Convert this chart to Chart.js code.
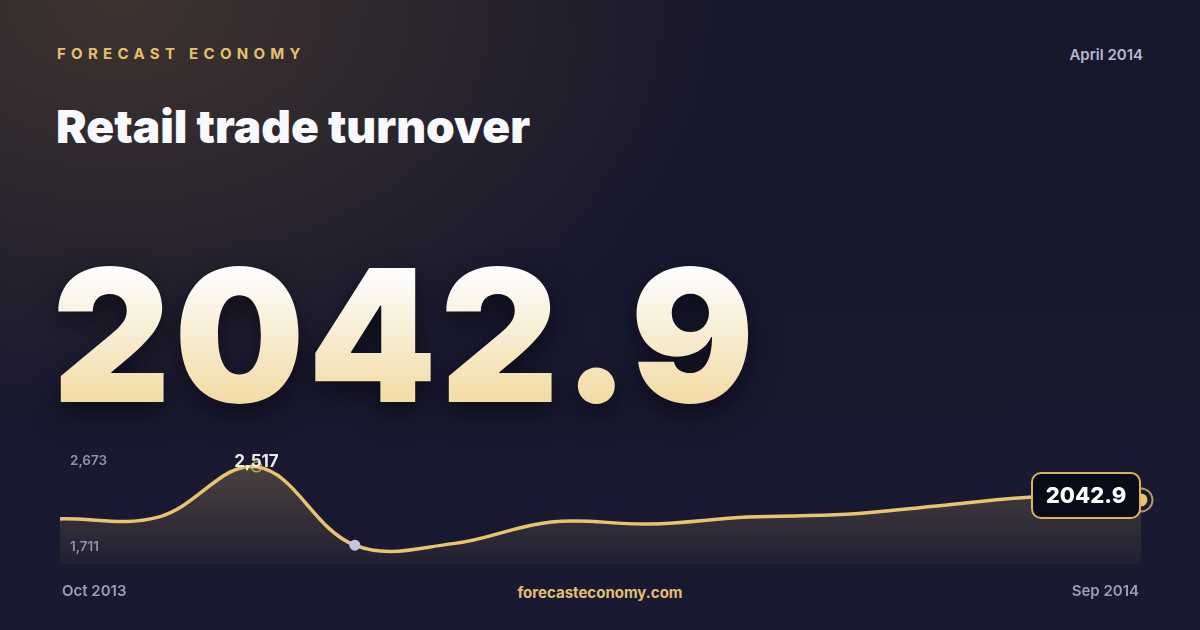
<!DOCTYPE html>
<html>
<head>
<meta charset="utf-8">
<script src="https://cdn.jsdelivr.net/npm/chart.js@4"></script>
<style>
  html, body { margin: 0; padding: 0; }
  body {
    width: 1200px;
    height: 630px;
    overflow: hidden;
    position: relative;
    font-family: Inter, "Noto Sans", sans-serif;
    background:
      radial-gradient(ellipse 620px 420px at 120px 0px, rgba(78, 62, 48, 0.72), rgba(78, 62, 48, 0) 100%),
      linear-gradient(180deg, #17172c 0%, #191932 100%);
  }
  .brand {
    position: absolute; left: 57px; top: 44px;
    color: #e6c06c; font-size: 15px; font-weight: 700; letter-spacing: 5.3px;
  }
  .date {
    position: absolute; right: 57px; top: 45px;
    color: #b4b7d0; font-size: 15px; font-weight: 600;
  }
  .title {
    position: absolute; left: 56px; top: 98px;
    color: #f8f9fc; font-size: 46px; font-weight: 900; letter-spacing: 0px;
  }
  .hero {
    position: absolute; left: 52px; top: 243px;
    font-size: 184px; font-weight: 900; line-height: 1; letter-spacing: 3px;
    background: linear-gradient(180deg, #fdfdfd 15%, #f2d9a0 90%);
    -webkit-background-clip: text; background-clip: text; color: transparent;
    filter: drop-shadow(0 10px 14px rgba(5, 5, 15, 0.7));
  }
  .site {
    position: absolute; left: 0; width: 1200px; top: 583px; text-align: center;
    color: #e2bf70; font-size: 15px; font-weight: 700;
  }
  #wrap { position: absolute; left: 0; top: 430px; width: 1200px; height: 180px; }
</style>
</head>
<body>
<div class="brand">FORECAST ECONOMY</div>
<div class="date">April 2014</div>
<div class="title">Retail trade turnover</div>
<div class="hero" id="hero"></div>
<div class="site">forecasteconomy.com</div>
<div id="wrap"><canvas id="spark"></canvas></div>
<script>
// monthly series, Oct 2013 .. Sep 2014
const months = ["Oct 2013", "Nov 2013", "Dec 2013", "Jan 2014", "Feb 2014", "Mar 2014",
                "Apr 2014", "May 2014", "Jun 2014", "Jul 2014", "Aug 2014", "Sep 2014"];
const turnover = [2085, 2100, 2517, 1867, 1880, 2060, 2042.9, 2100, 2123, 2199, 2268, 2242];
const yBounds = [1711, 2673];      // axis min / max shown at the left
const currentValue = 2042.9;        // headline figure (April 2014)

const gold = "#e8c46e";

document.getElementById("hero").textContent = currentValue.toFixed(1);

const fmt = (v) => Math.round(v).toLocaleString("en-US");

// markers, axis texts and end badge
const overlay = {
  id: "overlay",
  afterDatasetsDraw(chart) {
    const ctx = chart.ctx;
    const x = chart.scales.x;
    const y = chart.scales.y;
    const area = chart.chartArea;
    const maxIdx = turnover.indexOf(Math.max(...turnover));
    const minIdx = turnover.indexOf(Math.min(...turnover));
    const last = turnover.length - 1;

    ctx.save();
    ctx.font = "600 13.5px Inter";
    ctx.fillStyle = "#8e92b4";
    ctx.textAlign = "left";
    ctx.textBaseline = "middle";
    ctx.fillText(fmt(yBounds[1]), area.left + 10, area.top + 13);
    ctx.fillText(fmt(yBounds[0]), area.left + 10, area.bottom - 17);

    // x labels: first & last month
    ctx.font = "600 15px Inter";
    ctx.fillStyle = "#9a9ebe";
    ctx.textBaseline = "middle";
    ctx.fillText(months[0], x.getPixelForValue(0) + 2, area.bottom + 27);
    ctx.textAlign = "right";
    ctx.fillText(months[last], x.getPixelForValue(last) - 2, area.bottom + 27);

    // peak ring + label
    const px = x.getPixelForValue(maxIdx);
    const py = y.getPixelForValue(turnover[maxIdx]);
    ctx.beginPath();
    ctx.arc(px, py, 5, 0, Math.PI * 2);
    ctx.strokeStyle = "rgba(232, 196, 110, 0.75)";
    ctx.lineWidth = 1.5;
    ctx.stroke();
    ctx.font = "700 17px Inter";
    ctx.fillStyle = "rgba(250, 248, 240, 0.95)";
    ctx.textAlign = "center";
    ctx.fillText(fmt(turnover[maxIdx]), px, py - 5);

    // low point dot
    ctx.beginPath();
    ctx.arc(x.getPixelForValue(minIdx), y.getPixelForValue(turnover[minIdx]), 5.5, 0, Math.PI * 2);
    ctx.fillStyle = "#c3c6e0";
    ctx.fill();

    // end marker
    const ex = x.getPixelForValue(last);
    const ey = y.getPixelForValue(turnover[last]);
    ctx.beginPath();
    ctx.arc(ex, ey, 11.5, 0, Math.PI * 2);
    ctx.strokeStyle = "rgba(232, 196, 110, 0.75)";
    ctx.lineWidth = 2;
    ctx.stroke();
    ctx.beginPath();
    ctx.arc(ex, ey, 6.5, 0, Math.PI * 2);
    ctx.fillStyle = gold;
    ctx.fill();

    // badge
    const bw = 108, bh = 45;
    const bx = ex - bw - 1, by = ey - 27;
    ctx.beginPath();
    ctx.roundRect(bx, by, bw, bh, 9);
    ctx.fillStyle = "#0a0b18";
    ctx.fill();
    ctx.strokeStyle = "#d9b25e";
    ctx.lineWidth = 2;
    ctx.stroke();
    ctx.font = "800 22px Inter";
    ctx.fillStyle = "#ffffff";
    ctx.textAlign = "center";
    ctx.textBaseline = "middle";
    ctx.fillText(currentValue.toFixed(1), bx + bw / 2, by + bh / 2 + 1);
    ctx.restore();
  },
};

new Chart(document.getElementById("spark"), {
  type: "line",
  data: {
    labels: months,
    datasets: [
      {
        data: turnover,
        borderColor: gold,
        borderWidth: 3.5,
        tension: 0.38,
        pointRadius: 0,
        fill: "start",
        backgroundColor: (c) => {
          const a = c.chart.chartArea;
          if (!a) return "rgba(232,196,110,0.15)";
          const g = c.chart.ctx.createLinearGradient(0, a.top, 0, a.bottom);
          g.addColorStop(0, "rgba(232, 196, 110, 0.28)");
          g.addColorStop(1, "rgba(232, 196, 110, 0.04)");
          return g;
        },
      },
    ],
  },
  options: {
    responsive: true,
    maintainAspectRatio: false,
    animation: false,
    layout: { padding: { left: 60, right: 59, top: 18, bottom: 46 } },
    plugins: { legend: { display: false }, tooltip: { enabled: false } },
    scales: {
      x: { display: false },
      y: { display: false, min: yBounds[0], max: yBounds[1] },
    },
  },
  plugins: [overlay],
});
</script>
</body>
</html>
